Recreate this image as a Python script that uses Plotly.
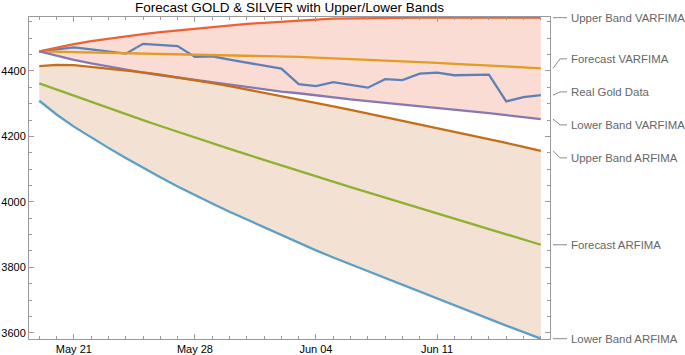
import pandas as pd
import plotly.graph_objects as go

# ---------------- data ----------------
start_date = "2025-05-19"
n_days = 30
dates = pd.date_range(start_date, periods=n_days, freq="D")

real_gold = [4460, 4466, 4472, 4466, 4460, 4453, 4483, 4480, 4476, 4443,
             4445, 4435, 4425, 4415, 4407, 4360, 4354, 4366, 4357, 4349,
             4375, 4372, 4392, 4395, 4387, 4388, 4389, 4307, 4320, 4326]

forecast_varfima = [4460, 4459, 4458, 4457, 4456, 4455, 4454, 4453, 4452, 4451,
                    4450, 4449, 4447, 4446, 4444, 4443, 4441, 4439, 4437, 4435,
                    4433, 4430, 4428, 4425, 4422, 4420, 4417, 4414, 4411, 4408]

upper_varfima = [4460, 4472, 4482, 4491, 4499, 4506, 4513, 4519, 4524, 4529,
                 4535, 4540, 4544, 4547, 4551, 4554, 4557, 4560, 4561, 4562,
                 4563, 4563, 4563, 4563, 4563, 4563, 4563, 4563, 4563, 4563]

lower_varfima = [4460, 4446, 4434, 4423, 4413, 4404, 4395, 4387, 4380, 4373,
                 4365, 4358, 4350, 4345, 4337, 4332, 4325, 4318, 4313, 4308,
                 4303, 4297, 4293, 4287, 4281, 4277, 4271, 4265, 4259, 4253]

forecast_arfima = [4362, 4343, 4324, 4305, 4286, 4268, 4250, 4232, 4214, 4196,
                   4179, 4162, 4145, 4128, 4111, 4094, 4077, 4061, 4045, 4029,
                   4013, 3997, 3981, 3965, 3949, 3933, 3917, 3901, 3885, 3869]

upper_arfima = [4415, 4419, 4418, 4413, 4407, 4402, 4396, 4389, 4381, 4372,
                4363, 4354, 4344, 4334, 4324, 4313, 4302, 4292, 4281, 4270,
                4259, 4248, 4237, 4226, 4215, 4203, 4191, 4180, 4168, 4156]

lower_arfima = [4309, 4267, 4230, 4197, 4165, 4134, 4104, 4075, 4047, 4020,
                3995, 3970, 3946, 3922, 3898, 3875, 3852, 3830, 3809, 3788,
                3767, 3746, 3725, 3704, 3683, 3663, 3643, 3622, 3602, 3582]

series_names = ["Upper Band VARFIMA", "Forecast VARFIMA", "Real Gold Data",
                "Lower Band VARFIMA", "Upper Band ARFIMA", "Forecast ARFIMA",
                "Lower Band ARFIMA"]

# ---------------- styling ----------------
C_REAL = "#5E81B5"
C_FV = "#E19C24"
C_FA = "#8FB032"
C_UV = "#EB6235"
C_LV = "#8778B3"
C_UA = "#C56E1A"
C_LA = "#5D9EC7"
FILL_V = "rgba(250,220,212,1)"
FILL_A = "rgba(243,226,211,1)"
AX = "#9a9a9a"
FONT = "Liberation Sans, Arial, sans-serif"

W, H = 685, 355
ML, MR, MT, MB = 29, 135, 17, 16
Y_MIN, Y_MAX = 3581, 4565
X_RANGE = ["2025-05-18 09:45", "2025-06-17 12:45"]

fig = go.Figure()

# bands
fig.add_trace(go.Scatter(x=dates, y=lower_varfima, mode="lines",
                         line=dict(width=0), hoverinfo="skip", showlegend=False))
fig.add_trace(go.Scatter(x=dates, y=upper_varfima, mode="lines", fill="tonexty",
                         fillcolor=FILL_V, line=dict(width=0), hoverinfo="skip",
                         showlegend=False))
fig.add_trace(go.Scatter(x=dates, y=lower_arfima, mode="lines",
                         line=dict(width=0), hoverinfo="skip", showlegend=False))
fig.add_trace(go.Scatter(x=dates, y=upper_arfima, mode="lines", fill="tonexty",
                         fillcolor=FILL_A, line=dict(width=0), hoverinfo="skip",
                         showlegend=False))

lines = [
    ("Real Gold Data", real_gold, C_REAL),
    ("Forecast VARFIMA", forecast_varfima, C_FV),
    ("Forecast ARFIMA", forecast_arfima, C_FA),
    ("Upper Band VARFIMA", upper_varfima, C_UV),
    ("Lower Band VARFIMA", lower_varfima, C_LV),
    ("Upper Band ARFIMA", upper_arfima, C_UA),
    ("Lower Band ARFIMA", lower_arfima, C_LA),
]
for name, vals, col in lines:
    fig.add_trace(go.Scatter(x=dates, y=vals, mode="lines", name=name,
                             line=dict(color=col, width=2.3), showlegend=False))

# ---------------- right-hand callout labels ----------------
end_vals = {name: vals[-1] for name, vals, _ in lines}
plot_h = H - MT - MB
plot_w = W - ML - MR


def to_paper(v):
    return (v - Y_MIN) / (Y_MAX - Y_MIN)


def spread_labels(positions, gap):
    items = sorted(positions, key=lambda t: t[1])
    clusters = [[it] for it in items]

    def span(cl):
        centre = sum(p for _, p in cl) / len(cl)
        first = centre - gap * (len(cl) - 1) / 2
        return first, first + gap * (len(cl) - 1)

    changed = True
    while changed:
        changed = False
        new = [clusters[0]]
        for cl in clusters[1:]:
            if span(cl)[0] - span(new[-1])[1] < gap - 1e-9:
                new[-1] = new[-1] + cl
                changed = True
            else:
                new.append(cl)
        clusters = new
    out = {}
    for cl in clusters:
        first, _ = span(cl)
        for i, (k, _) in enumerate(cl):
            out[k] = first + gap * i
    return out


end_paper = {k: to_paper(v) for k, v in end_vals.items()}
label_paper = spread_labels([(k, v) for k, v in end_paper.items()], 33 / plot_h)

x0 = (553 - ML) / plot_w
x1 = (560 - ML) / plot_w
x2 = (567 - ML) / plot_w
xt = (569 - ML) / plot_w
for name in series_names:
    ye = end_paper[name]
    yl = label_paper[name]
    fig.add_shape(type="path",
                  path=f"M {x0} {ye} L {x1} {yl} L {x2} {yl}",
                  xref="paper", yref="paper",
                  line=dict(color="#8a8a8a", width=1))
    fig.add_annotation(x=xt, y=yl, xref="paper", yref="paper", text=name,
                       showarrow=False, xanchor="left", yanchor="middle",
                       font=dict(family=FONT, size=11.4, color="#666666"))

# ---------------- layout ----------------
fig.update_layout(
    template="none",
    width=W, height=H,
    margin=dict(l=ML, r=MR, t=MT, b=MB, pad=0),
    paper_bgcolor="white", plot_bgcolor="white",
    showlegend=False,
    title=dict(text="Forecast GOLD & SILVER with Upper/Lower Bands",
               x=289.5 / W, xanchor="center", xref="container",
               y=1 - 7 / H, yanchor="middle", yref="container",
               font=dict(family=FONT, size=13.5, color="black")),
    font=dict(family=FONT),
)
fig.update_xaxes(
    type="date", range=X_RANGE, showgrid=False, zeroline=False,
    showline=True, linecolor=AX, linewidth=1, mirror="ticks",
    ticks="inside", ticklen=5, tickcolor=AX, tickwidth=1,
    tick0="2025-05-21", dtick=7 * 86400000, tickformat="%b %d",
    tickfont=dict(family=FONT, size=11, color="black"),
    minor=dict(dtick=86400000, tick0="2025-05-19", ticks="inside",
               ticklen=3, tickcolor=AX, showgrid=False),
    automargin=False,
)
fig.update_yaxes(
    range=[Y_MIN, Y_MAX], showgrid=False, zeroline=False,
    showline=True, linecolor=AX, linewidth=1, mirror="ticks",
    ticks="inside", ticklen=5, tickcolor=AX, tickwidth=1,
    tick0=0, dtick=200,
    tickfont=dict(family=FONT, size=11, color="black"),
    minor=dict(dtick=50, ticks="inside", ticklen=3, tickcolor=AX,
               showgrid=False),
    automargin=False,
)

fig.write_html(
    "out.html",
    config={"displayModeBar": False, "staticPlot": True},
    post_script="document.body.style.margin='0';document.body.style.overflow='hidden';",
)
